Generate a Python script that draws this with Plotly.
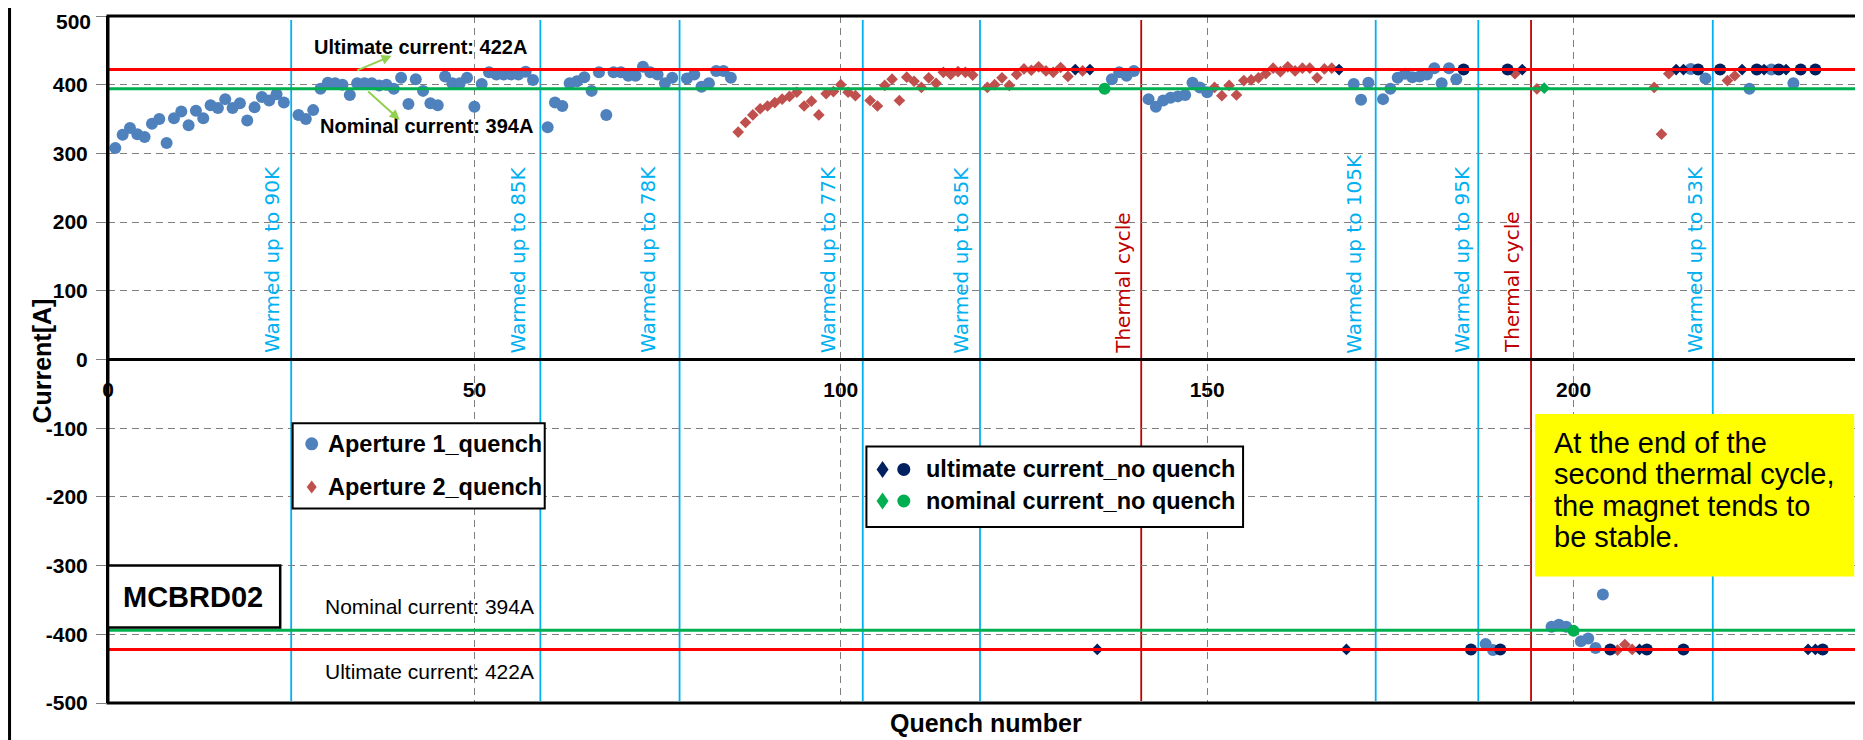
import plotly.graph_objects as go

# ---------------- data (quench number, current [A]) ----------------
# Aperture 1 quench (blue circles)
a1_x = [1, 2, 3, 4, 5, 6, 7, 8, 9, 10, 11, 12, 13, 14, 15, 16, 17, 18, 19, 20, 21, 22, 23, 24,
        26, 27, 28, 29, 30, 31, 32, 33, 34, 35, 36, 37, 38, 39, 40, 41, 42, 43, 44, 45, 46, 47,
        48, 49, 50, 51, 52, 53, 54, 55, 56, 57, 58,
        60, 61, 62, 63, 64, 65, 66, 67, 68, 69, 70, 71, 72, 73, 74, 75, 76, 77,
        79, 80, 81, 82, 83, 84, 85,
        137, 138, 139, 140, 142, 143, 144, 145, 146, 147, 148, 149, 150,
        170, 171, 172, 174, 175, 176, 177, 178, 179, 180, 181, 182, 183, 184,
        216, 218, 224, 227, 230,
        188, 189, 197, 198, 199, 201, 202, 203, 204]
a1_y = [308, 327, 337, 328, 324, 343, 350, 315, 351, 361, 341, 362, 351, 370, 366, 379, 366, 373, 348, 367, 382, 377, 386, 374,
        356, 350, 363, 394, 403, 402, 400, 385, 402, 402, 402, 399, 400, 394, 410, 372, 408, 391, 373, 370, 412, 402,
        402, 410, 368, 401, 418, 415, 415, 415, 415, 419, 407,
        338, 374, 369, 402, 405, 411, 391, 418, 356, 418, 418, 413, 413, 426, 418, 415, 402, 410,
        409, 415, 397, 402, 420, 420, 410,
        408, 418, 413, 420, 379, 368, 377, 381, 383, 385, 403, 396, 389,
        401, 378, 403, 379, 394, 410, 416, 411, 412, 415, 424, 402, 424, 408,
        423, 409, 394, 422, 402,
        -414, -423, -389, -386, -389, -410, -406, -420, -342]

# Aperture 2 quench (red diamonds)
a2_x = [86, 87, 88, 89, 90, 91, 92, 93, 94, 95, 96, 97, 98, 99, 100, 101, 102,
        104, 105, 106, 107, 108, 109, 110, 111, 112, 113, 114, 115, 116, 117, 118,
        120, 121, 122, 123, 124, 125, 126, 127, 128, 129, 130, 131, 133,
        151, 152, 153, 154, 155, 156, 157, 158, 159, 160, 161, 162, 163, 164, 165, 166, 167,
        192, 195, 211, 212, 213, 221, 222,
        206, 207, 208]
a2_y = [331, 345, 356, 365, 369, 374, 379, 383, 389, 369, 376, 356, 387, 390, 400, 389, 384,
        377, 369, 399, 408, 377, 411, 405, 396, 410, 402, 418, 415, 419, 418, 414,
        396, 400, 410, 399, 415, 423, 421, 426, 420, 418, 425, 412, 420,
        396, 384, 399, 385, 406, 407, 410, 416, 424, 419, 426, 420, 424, 424, 410, 423, 424,
        416, 394, 396, 328, 416, 406, 413,
        -423, -415, -422]

# Ultimate current reached, no quench
ult_c_x = [185, 191, 217, 220, 225, 228, 231, 233, 186, 190, 205, 210, 215, 234]
ult_c_y = [422, 422, 422, 422, 422, 422, 422, 422, -422, -422, -422, -422, -422, -422]
ult_d_x = [132, 134, 168, 193, 214, 215, 223, 226, 229, 135, 169, 209, 232, 233]
ult_d_y = [422, 422, 422, 422, 422, 422, 422, 422, 422, -422, -422, -422, -422, -422]

# Nominal current reached, no quench
nom_c_x = [136, 200]
nom_c_y = [394, -395]
nom_d_x = [196]
nom_d_y = [395]

ULTIMATE = 422
NOMINAL = 394

warm_lines_x = [25, 59, 78, 103, 119, 173, 187, 219]
warm_labels = ["Warmed up to 90K", "Warmed up to 85K", "Warmed up to 78K", "Warmed up to 77K",
               "Warmed up to 85K", "Warmed up to 105K", "Warmed up to 95K", "Warmed up to 53K"]
warm_label_x = [22.4, 55.9, 73.7, 98.3, 116.4, 170.1, 184.8, 216.6]
thermal_lines_x = [141, 194.2]
thermal_labels = ["Thermal cycle", "Thermal cycle"]
thermal_label_x = [138.5, 191.6]

note_lines = ["At the end of the", "second thermal cycle,", "the magnet tends to", "be stable."]
note_line_y = [-121, -167, -213, -259]

y_ticks = list(range(-500, 501, 100))
Y_TOP = 500
# the top label is drawn as a separate text so that it stays inside the page
y_ticktext = ["" if v == Y_TOP else str(v) for v in y_ticks]
x_ticks = [0, 50, 100, 150, 200]

BLUE = "#4F81BD"
RED = "#C0504D"
NAVY = "#002060"
GREEN = "#00B050"
CYAN = "#00B0F0"
DARKRED = "#C00000"
FONT = "Liberation Sans, Arial, sans-serif"

fig = go.Figure()
fig.add_trace(go.Scatter(x=a2_x, y=a2_y, mode="markers", name="Aperture 2_quench",
                         marker=dict(symbol="diamond", size=9, color=RED, line=dict(width=0))))
fig.add_trace(go.Scatter(x=a1_x, y=a1_y, mode="markers", name="Aperture 1_quench",
                         marker=dict(symbol="circle", size=12, color=BLUE, line=dict(width=0))))
fig.add_trace(go.Scatter(x=ult_c_x, y=ult_c_y, mode="markers", name="ultimate current_no quench",
                         marker=dict(symbol="circle", size=12, color=NAVY, line=dict(width=0))))
fig.add_trace(go.Scatter(x=ult_d_x, y=ult_d_y, mode="markers", name="ultimate current_no quench",
                         marker=dict(symbol="diamond", size=9, color=NAVY, line=dict(width=0))))
fig.add_trace(go.Scatter(x=nom_c_x, y=nom_c_y, mode="markers", name="nominal current_no quench",
                         marker=dict(symbol="circle", size=12, color=GREEN, line=dict(width=0))))
fig.add_trace(go.Scatter(x=nom_d_x, y=nom_d_y, mode="markers", name="nominal current_no quench",
                         marker=dict(symbol="diamond", size=9, color=GREEN, line=dict(width=0))))

shapes = []
# vertical event lines
for xv in warm_lines_x:
    shapes.append(dict(type="line", xref="x", yref="y", x0=xv, x1=xv, y0=-497, y1=494,
                       line=dict(color=CYAN, width=1.8), layer="below"))
for xv in thermal_lines_x:
    shapes.append(dict(type="line", xref="x", yref="y", x0=xv, x1=xv, y0=-497, y1=494,
                       line=dict(color=DARKRED, width=1.8), layer="below"))
# ultimate / nominal current lines
for yv in (ULTIMATE, -ULTIMATE):
    shapes.append(dict(type="line", xref="paper", yref="y", x0=0, x1=1, y0=yv, y1=yv,
                       line=dict(color="#FF0000", width=3), layer="above"))
for yv in (NOMINAL, -NOMINAL):
    shapes.append(dict(type="line", xref="paper", yref="y", x0=0, x1=1, y0=yv, y1=yv,
                       line=dict(color=GREEN, width=3), layer="above"))
# plot frame
shapes.append(dict(type="rect", xref="paper", yref="paper", x0=0, x1=1, y0=0, y1=1,
                   line=dict(color="black", width=3), layer="above"))
# left edge bar of the slide
shapes.append(dict(type="line", xref="paper", yref="paper", x0=-0.0561, x1=-0.0561, y0=-0.06, y1=1.02,
                   line=dict(color="black", width=3)))
# legend boxes
shapes.append(dict(type="rect", xref="x", yref="y", x0=25.2, x1=59.6, y0=-216.9, y1=-92.8,
                   line=dict(color="black", width=2), fillcolor="white", layer="above"))
shapes.append(dict(type="rect", xref="x", yref="y", x0=103.5, x1=154.9, y0=-243.9, y1=-126.8,
                   line=dict(color="black", width=2), fillcolor="white", layer="above"))
# MCBRD02 box
shapes.append(dict(type="rect", xref="x", yref="y", x0=0, x1=23.5, y0=-390, y1=-300,
                   line=dict(color="black", width=2.5), fillcolor="white", layer="above"))
# yellow note box
shapes.append(dict(type="rect", xref="x", yref="y", x0=194.75, x1=238.3, y0=-316, y1=-79.5,
                   line=dict(color="#FFFF00", width=0), fillcolor="#FFFF00", layer="above"))


def circ(xa, ya, color, r=6):
    return dict(type="circle", xref="x", yref="y", xsizemode="pixel", ysizemode="pixel",
                xanchor=xa, yanchor=ya, x0=-r, x1=r, y0=-r, y1=r,
                fillcolor=color, line=dict(width=0), layer="above")


def diam(xa, ya, color, w=5, h=6):
    return dict(type="path", xref="x", yref="y", xsizemode="pixel", ysizemode="pixel",
                xanchor=xa, yanchor=ya, path=f"M 0 {-h} L {w} 0 L 0 {h} L {-w} 0 Z",
                fillcolor=color, line=dict(width=0), layer="above")


shapes += [circ(27.8, -122.7, BLUE, 6.5), diam(27.8, -185.5, RED, 5, 6.5)]
shapes += [diam(105.7, -160, NAVY, 6, 8.5), circ(108.6, -160, NAVY, 6.5),
           diam(105.7, -206, GREEN, 6, 8.5), circ(108.6, -206, GREEN, 6.5)]

ann = []
for xl, txt in zip(warm_label_x, warm_labels):
    ann.append(dict(x=xl, y=6, xref="x", yref="y", text=txt, textangle=-90, showarrow=False,
                    xanchor="center", yanchor="bottom",
                    font=dict(family="DejaVu Sans", size=20, color=CYAN)))
for xl, txt in zip(thermal_label_x, thermal_labels):
    ann.append(dict(x=xl, y=6, xref="x", yref="y", text=txt, textangle=-90, showarrow=False,
                    xanchor="center", yanchor="bottom",
                    font=dict(family="DejaVu Sans", size=20, color=DARKRED)))

# top y tick label (kept inside the page)
ann.append(dict(x=0, y=1, xref="paper", yref="paper", text=f"<b>{Y_TOP}</b>", showarrow=False,
                xanchor="right", yanchor="top", xshift=-15, yshift=8,
                font=dict(family=FONT, size=21, color="black")))

# current level labels
ann.append(dict(x=42.6, y=455, text=f"<b>Ultimate current: {ULTIMATE}A</b>", showarrow=False,
                font=dict(family=FONT, size=20, color="black")))
ann.append(dict(x=43.4, y=340, text=f"<b>Nominal current: {NOMINAL}A</b>", showarrow=False,
                font=dict(family=FONT, size=20, color="black")))
ann.append(dict(x=43.9, y=-359, text=f"Nominal current: {NOMINAL}A", showarrow=False,
                font=dict(family=FONT, size=21, color="black")))
ann.append(dict(x=43.9, y=-454, text=f"Ultimate current: {ULTIMATE}A", showarrow=False,
                font=dict(family=FONT, size=21, color="black")))
ann.append(dict(x=38.7, y=442, ax=33.8, ay=420, axref="x", ayref="y", xref="x", yref="y",
                text="", showarrow=True, arrowhead=2, arrowsize=1, arrowwidth=2,
                arrowcolor="#92D050"))
ann.append(dict(x=39.8, y=349, ax=35.3, ay=392, axref="x", ayref="y", xref="x", yref="y",
                text="", showarrow=True, arrowhead=2, arrowsize=1, arrowwidth=2,
                arrowcolor="#92D050"))

# legends
LEG = dict(family=FONT, size=23.5, color="black")
ann.append(dict(x=29.8, y=-122.7, text="<b>Aperture 1_quench</b>", showarrow=False, xanchor="left", font=LEG))
ann.append(dict(x=29.8, y=-185.5, text="<b>Aperture 2_quench</b>", showarrow=False, xanchor="left", font=LEG))
ann.append(dict(x=111.4, y=-160, text="<b>ultimate current_no quench</b>", showarrow=False, xanchor="left", font=LEG))
ann.append(dict(x=111.4, y=-206, text="<b>nominal current_no quench</b>", showarrow=False, xanchor="left", font=LEG))

ann.append(dict(x=11.6, y=-346, text="<b>MCBRD02</b>", showarrow=False,
                font=dict(family=FONT, size=29, color="black")))
for txt, yl in zip(note_lines, note_line_y):
    ann.append(dict(x=197.1, y=yl, text=txt, showarrow=False, xanchor="left", yanchor="middle",
                    font=dict(family=FONT, size=29, color="black")))

# axis titles
ann.append(dict(x=0.5, y=-0.029, xref="paper", yref="paper", text="<b>Quench number</b>",
                showarrow=False, yanchor="middle",
                font=dict(family=FONT, size=25, color="black")))
ann.append(dict(x=-0.0467, y=0.497, xref="paper", yref="paper", text="<b>Current[A]</b>",
                showarrow=False, textangle=-90,
                font=dict(family=FONT, size=25, color="black")))

# the page body adds an 8px offset, so the figure is sized to end at the window edge
fig.update_layout(
    width=1855, height=732,
    margin=dict(l=100, r=0, t=8, b=37, autoexpand=False),
    paper_bgcolor="white", plot_bgcolor="white",
    showlegend=False,
    shapes=shapes, annotations=ann,
    xaxis=dict(range=[0, 239.5], tickvals=x_ticks, ticktext=[str(v) for v in x_ticks],
               showgrid=True, gridcolor="#7F7F7F", gridwidth=1.3, griddash="7px,5px",
               zeroline=False, showline=False, anchor="free", position=0.5,
               ticks="", ticklabelstandoff=15, automargin=False, ticklabeloverflow="allow",
               tickfont=dict(family=FONT, size=21, color="black", weight="bold")),
    yaxis=dict(range=[-500, 500], tickvals=y_ticks, ticktext=y_ticktext,
               showgrid=True, gridcolor="#7F7F7F", gridwidth=1.3, griddash="7px,5px",
               zeroline=True, zerolinecolor="black", zerolinewidth=3,
               showline=True, linecolor="black", linewidth=2,
               ticks="outside", ticklen=10, tickcolor="#7F7F7F", tickwidth=1.3,
               ticklabelstandoff=4, automargin=False, ticklabeloverflow="allow",
               tickfont=dict(family=FONT, size=21, color="black", weight="bold")),
)

fig.write_html("out.html")
